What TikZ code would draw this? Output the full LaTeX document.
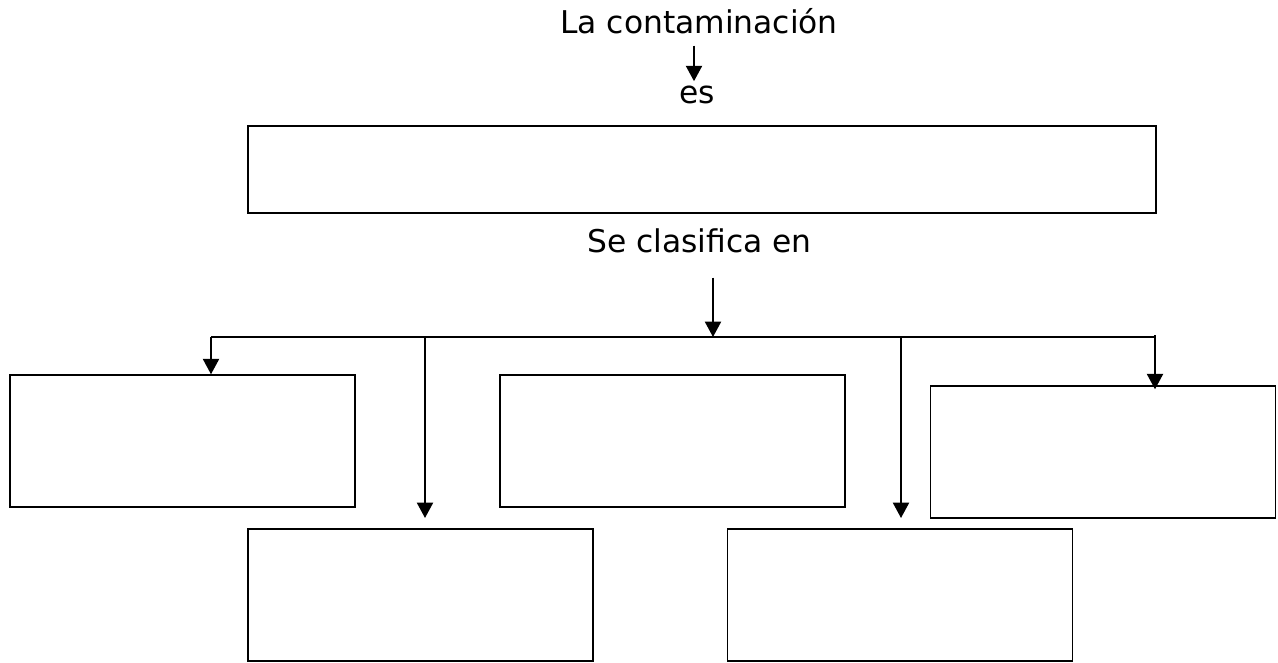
\documentclass[tikz,border=0pt]{standalone}
\usepackage{fontspec}
\setmainfont{DejaVu Sans}
\usetikzlibrary{arrows.meta,positioning}
\tikzset{
    box/.style={draw=black, line width=1.1pt, inner sep=0pt,
        minimum width=258.75pt, minimum height=99pt},
    topbox/.style={box, minimum width=681pt, minimum height=65.25pt},
    label/.style={inner sep=0pt, anchor=base, font=\fontsize{23.5}{28}\selectfont},
    link/.style={draw=black, line width=1.5pt, -{Triangle[width=12pt,length=11.5pt]}},
    bus/.style={draw=black, line width=1.5pt},
}
\begin{document}
\begin{tikzpicture}[x=0.75pt, y=-0.75pt]
	\useasboundingbox (0,0) rectangle (1278,662);
	% texts
	\node[label] (title) at (699,33) {La contaminación};
	\node[label] (es) at (697.5,103) {es};
	\node[label] (clasif) at (699.5,252) {Se clasifica en};
	% boxes
	\node[topbox] (def) at (702,169.5) {};
	\node[box] (boxa) at (182.5,441) {};
	\node[box] (boxb) at (672.5,441) {};
	\node[box] (boxc) at (1103,452) {};
	\node[box] (boxd) at (420.5,595) {};
	\node[box] (boxe) at (900,595) {};
	% bus
	\coordinate (busL) at (211,337);
	\coordinate (busR) at (1156,337);
	\coordinate (busM) at (713,337);
	\coordinate (tipd) at (425,518);
	\coordinate (tipe) at (901,518);
	\draw[link, shorten <=9pt, shorten >=3pt] (title.south -| 694,0) -- (694,0 |- es.north);
	\draw[link, shorten <=18.75pt] (clasif.south -| busM) -- (busM);
	\draw[bus] (busL) -- (busR);
	\draw[link] (busL) -- (busL |- boxa.north);
	\draw[link] (tipd |- busL) -- (tipd);
	\draw[link] (tipe |- busL) -- (tipe);
	\draw[link, shorten <=-1.5pt, shorten >=-3pt] (busR -| 1155,0) -- (1155,0 |- boxc.north);
\end{tikzpicture}
\end{document}
